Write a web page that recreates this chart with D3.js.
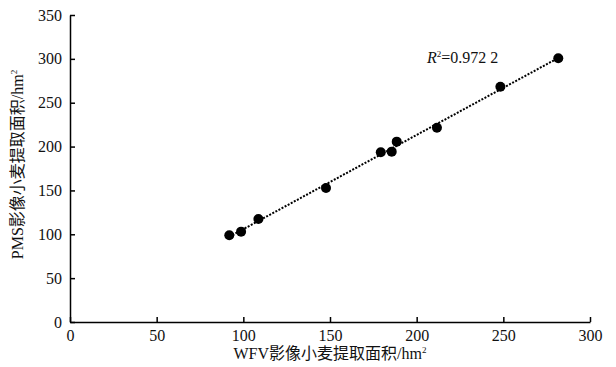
<!DOCTYPE html>
<html><head><meta charset="utf-8">
<script src="https://cdn.jsdelivr.net/npm/d3@7/dist/d3.min.js"></script>
<style>body{margin:0;background:#fff;} svg{display:block;} text{font-family:"Liberation Serif","Times New Roman","Noto Sans CJK SC",serif;}</style>
</head><body>
<svg id="chart" width="616" height="367"></svg>
<script>
const wfvArea = [91.9, 98.7, 108.7, 147.7, 179.3, 185.6, 188.5, 211.7, 248.3, 281.7];
const pmsArea = [98.8, 103.0, 117.4, 152.8, 193.5, 194.2, 205.6, 221.5, 268.3, 300.6];
const xTicks = [0, 50, 100, 150, 200, 250, 300];
const yTicks = [0, 50, 100, 150, 200, 250, 300, 350];
const r2Label = "0.972 2";
const xTitle = "WFV影像小麦提取面积/hm";
const yTitle = "PMS影像小麦提取面积/hm";

const W = 616, H = 367;
const m = {left: 70, right: 26, top: 15, bottom: 45};
const svg = d3.select("#chart");
const font = '"Liberation Serif","Times New Roman","Noto Sans CJK SC",serif';

const x = d3.scaleLinear().domain([0, 300]).range([m.left, W - m.right]);
const y = d3.scaleLinear().domain([0, 350]).range([H - m.bottom, m.top]);

const xAxis = svg.append("g").attr("transform", `translate(0,${y(0)})`)
  .call(d3.axisBottom(x).tickValues(xTicks).tickSizeInner(-5).tickSizeOuter(0).tickPadding(5));
const yAxis = svg.append("g").attr("transform", `translate(${x(0)},0)`)
  .call(d3.axisLeft(y).tickValues(yTicks).tickSizeInner(-5).tickSizeOuter(0).tickPadding(8));
[xAxis, yAxis].forEach(g => {
  g.attr("font-family", null).attr("font-size", null);
  g.selectAll("path,line").attr("stroke", "#000").attr("stroke-width", 1.5);
  g.selectAll("text").style("font-family", font).style("font-size", "16px").attr("fill", "#111");
});
xAxis.selectAll("text").attr("dy", "0.9em");

// regression line
const n = wfvArea.length;
const mx = d3.mean(wfvArea), my = d3.mean(pmsArea);
let sxy = 0, sxx = 0;
for (let i = 0; i < n; i++) { sxy += (wfvArea[i]-mx)*(pmsArea[i]-my); sxx += (wfvArea[i]-mx)**2; }
const slope = sxy / sxx, intercept = my - slope * mx;
const x0 = d3.min(wfvArea), x1 = d3.max(wfvArea);
svg.append("line")
  .attr("x1", x(x0)).attr("y1", y(slope*x0+intercept))
  .attr("x2", x(x1)).attr("y2", y(slope*x1+intercept))
  .attr("stroke", "#000").attr("stroke-width", 2).attr("stroke-dasharray", "2,1.5");

svg.append("g").selectAll("circle").data(wfvArea).join("circle")
  .attr("cx", d => x(d)).attr("cy", (d, i) => y(pmsArea[i])).attr("r", 5).attr("fill", "#000");

// R2 label
const rt = svg.append("text").attr("x", 427).attr("y", 63)
  .style("font-family", font).style("font-size", "16px").attr("fill", "#111");
rt.append("tspan").attr("font-style", "italic").text("R");
rt.append("tspan").style("font-size", "9px").attr("dy", -6).text("2");
rt.append("tspan").attr("dy", 6).text("=" + r2Label);

// axis titles
const xt = svg.append("text").attr("x", (x(0)+x(300))/2).attr("y", 359)
  .attr("text-anchor", "middle").style("font-family", font).style("font-size", "16px").attr("fill", "#111");
xt.append("tspan").text(xTitle);
xt.append("tspan").style("font-size", "9px").attr("dy", -6).text("2");

const yt = svg.append("text").attr("transform", `translate(23,${(y(0)+y(350))/2 - 4}) rotate(-90)`)
  .attr("text-anchor", "middle").style("font-family", font).style("font-size", "16px").attr("fill", "#111");
yt.append("tspan").text(yTitle);
yt.append("tspan").style("font-size", "9px").attr("dy", -6).text("2");
</script>
</body></html>
